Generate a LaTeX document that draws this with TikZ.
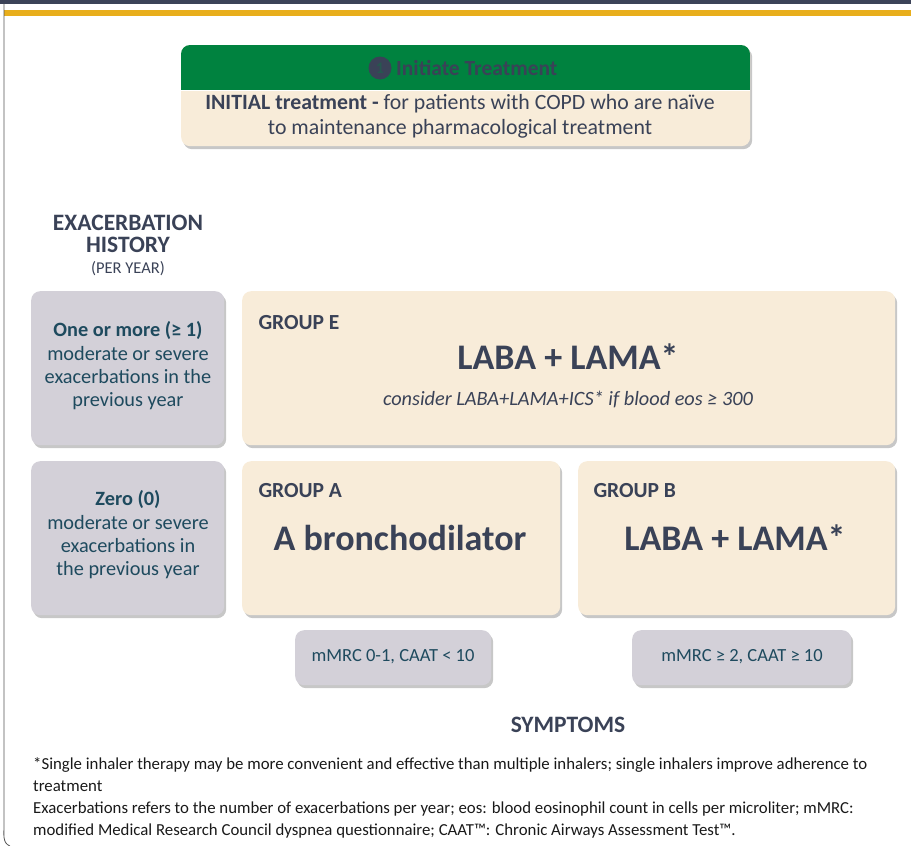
\documentclass[tikz,border=0pt]{standalone}
\usepackage{fontspec}
\setmainfont{Carlito}
\usetikzlibrary{shadows}
\definecolor{navybar}{HTML}{3C4358}
\definecolor{goldbar}{HTML}{E8AE1C}
\definecolor{hdrgreen}{HTML}{00823F}
\definecolor{creamfill}{HTML}{F8ECD9}
\definecolor{grayfill}{HTML}{D3D0D8}
\definecolor{navytext}{HTML}{3A4257}
\definecolor{tealtext}{HTML}{1E4A5E}
\definecolor{bordergray}{HTML}{555555}
\tikzset{
  boxbase/.style={rounded corners=9pt, anchor=north west, inner sep=0pt,
    drop shadow={shadow xshift=2pt, shadow yshift=-3pt, opacity=0.4, fill=black!55}},
  creambox/.style={boxbase, fill=creamfill},
  graybox/.style={boxbase, fill=grayfill},
  graytext/.style={text=tealtext, align=center, font=\fontsize{20.3}{23.3}\selectfont},
  grouplabel/.style={anchor=west, text=navytext, font=\bfseries\fontsize{21.5}{24}\selectfont},
  bigtext/.style={text=navytext, font=\bfseries\fontsize{36}{40}\selectfont},
  sympttext/.style={text=tealtext, font=\fontsize{18.5}{22}\selectfont},
}
\begin{document}
\begin{tikzpicture}[x=1pt,y=-1pt]
\useasboundingbox (0,0) rectangle (911,846);
% top bars and left border
\fill[navybar] (0,0) rectangle (911,3.5);
\fill[goldbar] (4,9.5) rectangle (911,16);
\draw[bordergray, line width=0.8pt] (4,3.5) -- (4,826) to[out=270, in=160] (10,846);
% initiate treatment box
\node[creambox, minimum width=569pt, minimum height=101pt] (init) at (181,45) {};
\begin{scope}
  \clip[rounded corners=9pt] (181,45) rectangle (750,146);
  \fill[hdrgreen] (181,45) rectangle (750,90);
\end{scope}
\draw[white, line width=1pt] (181,90.5) -- (750,90.5);
\node[circle, fill=navytext, minimum size=23pt, inner sep=0pt, text=hdrgreen!35!navytext,
      font=\bfseries\fontsize{16}{16}\selectfont] (num) at (380,68) {1};
\node[anchor=west, text=navytext, font=\bfseries\fontsize{21.5}{24}\selectfont, inner sep=0pt]
      (inittitle) at (396,68.5) {Initiate Treatment};
\node[align=center, text=navytext, font=\fontsize{21.8}{25}\selectfont] (inittext) at (460,116)
  {\textbf{INITIAL treatment -} for patients with COPD who are naïve\\to maintenance pharmacological treatment};
% exacerbation history heading
\node[align=center, text=navytext, font=\bfseries\fontsize{23.5}{22}\selectfont] (exh) at (128,234) {EXACERBATION\\HISTORY};
\node[text=navytext, font=\fontsize{16.5}{18}\selectfont] (peryear) at (128,269) {(PER YEAR)};
% row boxes
\node[graybox, minimum width=193pt, minimum height=154pt] (row1) at (31,291) {};
\node[graybox, minimum width=193pt, minimum height=154pt] (row0) at (31,461) {};
\node[creambox, minimum width=653pt, minimum height=154pt] (grpE) at (242,291) {};
\node[creambox, minimum width=318pt, minimum height=154pt] (grpA) at (242,461) {};
\node[creambox, minimum width=317pt, minimum height=154pt] (grpB) at (578,461) {};
\node[graybox, minimum width=196pt, minimum height=55pt] (symA) at (295,630) {};
\node[graybox, minimum width=219pt, minimum height=55pt] (symB) at (632,630) {};
% row texts
\node[graytext] (row1t) at (128,366) {\textbf{One or more (≥ 1)}\\moderate or severe\\exacerbations in the\\previous year};
\node[graytext] (row0t) at (128,535) {\textbf{Zero (0)}\\moderate or severe\\exacerbations in\\the previous year};
% group E
\node[grouplabel] (gEl) at (255,323) {GROUP E};
\node[bigtext] (gEt) at (568,357) {LABA + LAMA*};
\node[text=navytext, font=\itshape\fontsize{20.3}{22}\selectfont] (gEc) at (568,399) {consider LABA+LAMA+ICS* if blood eos ≥ 300};
% group A
\node[grouplabel] (gAl) at (255,491) {GROUP A};
\node[bigtext] (gAt) at (400,538) {A bronchodilator};
% group B
\node[grouplabel] (gBl) at (590,491) {GROUP B};
\node[bigtext] (gBt) at (735,538) {LABA + LAMA*};
% symptoms
\node[sympttext] (symAt) at (393,657) {mMRC 0-1, CAAT < 10};
\node[sympttext] (symBt) at (742,657) {mMRC ≥ 2, CAAT ≥ 10};
\node[text=navytext, font=\bfseries\fontsize{23.5}{24}\selectfont] (sympt) at (568,725) {SYMPTOMS};
% footnotes
\node[anchor=north west, align=left, inner sep=0pt, text=black!90, font=\fontsize{16.8}{22}\selectfont] (foot) at (33,757)
  {*Single inhaler therapy may be more convenient and effective than multiple inhalers; single inhalers improve adherence to\\
   treatment\\
   Exacerbations refers to the number of exacerbations per year; eos: blood eosinophil count in cells per microliter; mMRC:\\
   modified Medical Research Council dyspnea questionnaire; CAAT™: Chronic Airways Assessment Test™.};
\end{tikzpicture}
\end{document}
